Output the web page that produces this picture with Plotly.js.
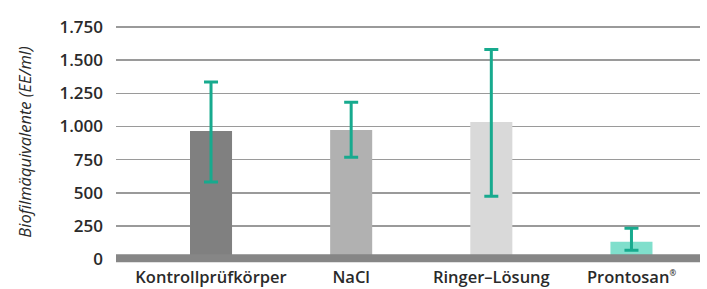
<!DOCTYPE html>
<html>
<head>
<meta charset="utf-8">
<script src="https://cdn.plot.ly/plotly-3.0.1.min.js"></script>
<style>html,body{margin:0;padding:0;background:#fff;}#chart{width:707px;height:289px;}</style>
</head>
<body>
<div id="chart"></div>
<script>
const categories = ["Kontrollprüfkörper", "NaCl", "Ringer–Lösung", "Prontosan<sup><span style='font-size:8px'>®</span></sup>"];
const values = [966, 973, 1034, 132];
const errPlus = [369, 209, 546, 101];
const errMinus = [384, 205, 560, 65];
const barColors = ["#808080", "#b1b1b1", "#d9d9d9", "#80dfcc"];
const tickVals = [0, 250, 500, 750, 1000, 1250, 1500, 1750];
const tickText = ["0", "250", "500", "750", "1.000", "1.250", "1.500", "1.750"];
const yTitle = "Biofilmäquivalente (EE/ml)";

const trace = {
  type: "bar",
  x: [0, 1, 2, 3],
  y: values,
  width: 0.3,
  marker: {color: barColors, line: {width: 0}},
  error_y: {
    type: "data",
    symmetric: false,
    array: errPlus,
    arrayminus: errMinus,
    color: "#17aa8e",
    thickness: 3,
    width: 7
  },
  hoverinfo: "skip"
};

const font = {family: "Open Sans, sans-serif", color: "#2a2a2a"};

const layout = {
  width: 707, height: 289,
  margin: {l: 116, r: 7, t: 20, b: 25},
  paper_bgcolor: "#ffffff",
  plot_bgcolor: "#ffffff",
  showlegend: false,
  font: font,
  xaxis: {
    range: [-0.678, 3.489],
    tickmode: "array",
    tickvals: [0, 1, 2, 3],
    ticktext: categories,
    showgrid: false,
    zeroline: false,
    showline: false,
    ticks: "",
    ticklabelstandoff: 1,
    tickfont: {family: "Open Sans, sans-serif", size: 16.5, color: "#2a2a2a", weight: 600},
    automargin: false
  },
  yaxis: {
    range: [-36, 1802],
    tickmode: "array",
    tickvals: tickVals,
    ticktext: tickText,
    showgrid: true,
    gridcolor: "#9a9a9a",
    gridwidth: 1.5,
    zeroline: false,
    showline: false,
    ticks: "",
    ticklabelstandoff: 12,
    tickfont: {family: "Open Sans, sans-serif", size: 17, color: "#2a2a2a", weight: 600},
    automargin: false,
    title: {
      text: yTitle,
      standoff: 23,
      font: {family: "Open Sans, sans-serif", size: 16.5, color: "#2a2a2a", style: "italic"}
    }
  },
  shapes: [{
    type: "rect",
    xref: "paper", yref: "y",
    x0: 0, x1: 1, y0: -23, y1: 37,
    fillcolor: "#868686",
    line: {width: 0},
    layer: "above"
  }]
};

Plotly.newPlot("chart", [trace], layout, {displayModeBar: false, staticPlot: true});
</script>
</body>
</html>
